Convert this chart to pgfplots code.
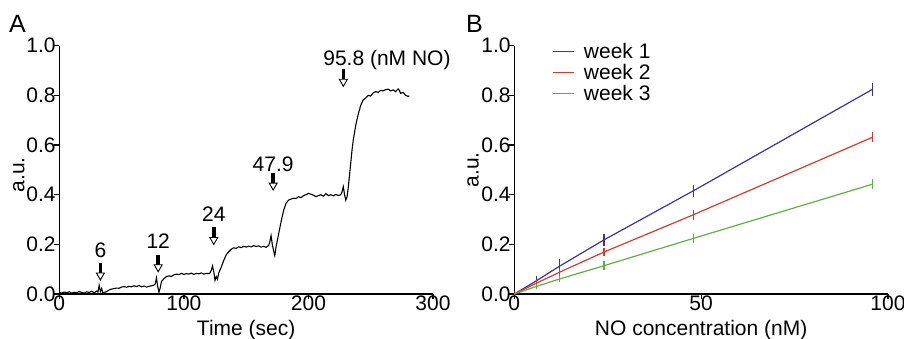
\documentclass[border=0pt]{standalone}
\usepackage{fontspec}
\setmainfont{Liberation Sans}
\usepackage{pgfplots}
\pgfplotsset{compat=1.18}
\definecolor{wkone}{RGB}{64,48,160}
\definecolor{wktwo}{RGB}{210,60,45}
\definecolor{wkthree}{RGB}{96,176,64}
\pgfplotsset{
  common/.style={
    scale only axis, width=373.7pt, height=248.3pt,
    axis lines*=left, axis line style={line width=1.3pt,-},
    tick align=outside, major tick length=5pt,
    tick style={line width=1.3pt,black},
    ymin=0, ymax=1, ytick={0,0.2,0.4,0.6,0.8,1.0},
    yticklabel style={/pgf/number format/fixed,/pgf/number format/fixed zerofill,/pgf/number format/precision=1},
    /pgf/number format/assume math mode=true,
    tick label style={font=\fontsize{21}{24}\selectfont, inner sep=0pt},
    yticklabel style={xshift=1.5pt},
    xticklabel style={yshift=3pt},
    label style={font=\fontsize{21}{24}\selectfont},
    anchor=south west,
  }
}
\begin{document}
\begin{tikzpicture}
\useasboundingbox (0,0) rectangle (904pt,338pt);
\node[anchor=base west, font=\fontsize{25}{28}\selectfont, inner sep=0pt] at (9pt,305pt) {A};
\node[anchor=base west, font=\fontsize{25}{28}\selectfont, inner sep=0pt] at (466pt,305pt) {B};
\begin{axis}[common, at={(59.3pt,44pt)}, xmin=0, xmax=300, xtick={0,100,200,300},
  clip=false,
  xlabel={Time (sec)}, ylabel={a.u.},
  xlabel style={at={(axis description cs:0.5,0)}, anchor=base, yshift=-41pt},
  ylabel style={at={(axis description cs:-0.108,0.48)}, anchor=center},
]
\addplot[black, line width=1.1pt, no marks] coordinates {
(0,0.006)(2,0.004)(4,0.008)(6,0.005)(8,0.009)(10,0.004)(12,0.007)(14,0.005)(16,0.010)(18,0.006)
(20,0.004)(22,0.009)(24,0.006)(26,0.011)(28,0.005)(30,0.012)(31,0.008)(32,0.035)(33,0.010)(34,0.022)
(35,0.003)(36,0.006)(38,0.010)(40,0.016)(42,0.020)(44,0.022)(46,0.024)(48,0.023)(50,0.028)(52,0.030)
(54,0.027)(56,0.031)(58,0.029)(60,0.033)(62,0.030)(64,0.034)(66,0.029)(68,0.032)(70,0.028)(72,0.031)
(74,0.033)(76,0.036)(77,0.040)(78,0.065)(79,0.030)(80,0.007)(81,0.025)(82,0.050)(84,0.062)(86,0.070)
(88,0.073)(90,0.071)(92,0.077)(94,0.080)(96,0.078)(98,0.083)(100,0.079)(102,0.082)(104,0.080)(106,0.084)
(108,0.079)(110,0.083)(112,0.081)(114,0.085)(116,0.080)(118,0.083)(120,0.082)(121,0.085)(122,0.095)(123,0.113)
(124,0.090)(125,0.055)(126,0.070)(127,0.060)(128,0.085)(130,0.108)(132,0.135)(134,0.158)(136,0.170)(138,0.180)
(140,0.186)(142,0.184)(144,0.190)(146,0.187)(148,0.192)(150,0.189)(152,0.193)(154,0.190)(156,0.195)(158,0.191)
(160,0.194)(162,0.189)(164,0.192)(166,0.188)(168,0.195)(169,0.210)(170,0.235)(171,0.200)(172,0.175)(173,0.155)
(174,0.190)(176,0.240)(178,0.290)(180,0.335)(182,0.365)(184,0.378)(186,0.382)(188,0.386)(190,0.384)(192,0.392)
(194,0.388)(196,0.396)(198,0.400)(200,0.405)(202,0.402)(204,0.398)(206,0.392)(208,0.396)(210,0.400)(212,0.394)
(214,0.404)(216,0.396)(218,0.400)(220,0.395)(222,0.401)(224,0.397)(226,0.400)(227,0.412)(228,0.432)(229,0.400)
(230,0.378)(231,0.392)(232,0.430)(233,0.480)(234,0.530)(235,0.580)(236,0.620)(237,0.650)(238,0.680)(240,0.725)
(242,0.760)(244,0.782)(246,0.790)(248,0.800)(250,0.797)(252,0.810)(254,0.815)(256,0.812)(258,0.820)(260,0.818)
(262,0.823)(264,0.825)(266,0.818)(268,0.822)(270,0.815)(272,0.826)(273,0.820)(274,0.808)(276,0.812)(278,0.800)
(280,0.796)(281,0.798)
};
% arrows
\draw[line width=3.5pt] (axis cs:33,0.125) -- ++(0,-10pt);
\draw[fill=white, line width=0.9pt] (axis cs:33,0.125) ++(-4pt,-10pt) -- ++(8pt,0) -- ++(-4pt,-7pt) -- cycle;
\draw[line width=3.5pt] (axis cs:79.4,0.158) -- ++(0,-10pt);
\draw[fill=white, line width=0.9pt] (axis cs:79.4,0.158) ++(-4pt,-10pt) -- ++(8pt,0) -- ++(-4pt,-7pt) -- cycle;
\draw[line width=3.5pt] (axis cs:124,0.268) -- ++(0,-10pt);
\draw[fill=white, line width=0.9pt] (axis cs:124,0.268) ++(-4pt,-10pt) -- ++(8pt,0) -- ++(-4pt,-7pt) -- cycle;
\draw[line width=3.5pt] (axis cs:171.7,0.487) -- ++(0,-10pt);
\draw[fill=white, line width=0.9pt] (axis cs:171.7,0.487) ++(-4pt,-10pt) -- ++(8pt,0) -- ++(-4pt,-7pt) -- cycle;
\draw[line width=3.5pt] (axis cs:228,0.905) -- ++(0,-10pt);
\draw[fill=white, line width=0.9pt] (axis cs:228,0.905) ++(-4pt,-10pt) -- ++(8pt,0) -- ++(-4pt,-7pt) -- cycle;
\node[anchor=base, inner sep=0pt, font=\fontsize{21}{24}\selectfont] at (axis cs:33,0.145) {6};
\node[anchor=base, inner sep=0pt, font=\fontsize{21}{24}\selectfont] at (axis cs:79.4,0.185) {12};
\node[anchor=base, inner sep=0pt, font=\fontsize{21}{24}\selectfont] at (axis cs:124,0.292) {24};
\node[anchor=base, inner sep=0pt, font=\fontsize{21}{24}\selectfont] at (axis cs:171.7,0.493) {47.9};
\node[anchor=base west, inner sep=0pt, font=\fontsize{21}{24}\selectfont] at (axis cs:211.8,0.922) {95.8 (nM NO)};
\end{axis}
\begin{axis}[common, at={(514.3pt,44pt)}, xmin=0, xmax=100, xtick={0,50,100},
  xlabel={NO concentration (nM)}, ylabel={a.u.},
  xlabel style={at={(axis description cs:0.5,0)}, anchor=base, yshift=-41pt},
  ylabel style={at={(axis description cs:-0.11,0.5)}, anchor=center},
  legend style={at={(axis description cs:0.093,1.02)}, anchor=north west, draw=none, fill=none,
    font=\fontsize{21}{24}\selectfont, row sep=3pt, nodes={inner sep=0.5pt}},
  legend cell align=left,
  legend image code/.code={\draw[#1, line width=1.2pt] (0pt,0pt) -- (21pt,0pt); \path (30pt,0pt);},
  error bars/error bar style={line width=1.2pt},
]
\addplot[wkone, line width=1.2pt, no marks, error bars/.cd, y dir=both, y explicit, error mark=none]
  coordinates {(0,0)+-(0,0.005) (6,0.054)+-(0,0.017) (12,0.111)+-(0,0.028) (24,0.218)+-(0,0.023) (47.9,0.4155)+-(0,0.023) (95.8,0.824)+-(0,0.025)};
\addlegendentry{week 1}
\addplot[wktwo, line width=1.2pt, no marks, error bars/.cd, y dir=both, y explicit, error mark=none]
  coordinates {(0,0)+-(0,0.012) (6,0.044)+-(0,0.012) (12,0.087)+-(0,0.014) (24,0.169)+-(0,0.017) (47.9,0.319)+-(0,0.02) (95.8,0.631)+-(0,0.02)};
\addlegendentry{week 2}
\addplot[wkthree, line width=1.2pt, no marks, error bars/.cd, y dir=both, y explicit, error mark=none]
  coordinates {(0,0)+-(0,0.005) (6,0.031)+-(0,0.01) (12,0.060)+-(0,0.012) (24,0.114)+-(0,0.018) (47.9,0.224)+-(0,0.017) (95.8,0.442)+-(0,0.02)};
\addlegendentry{week 3}
\end{axis}
\end{tikzpicture}
\end{document}
